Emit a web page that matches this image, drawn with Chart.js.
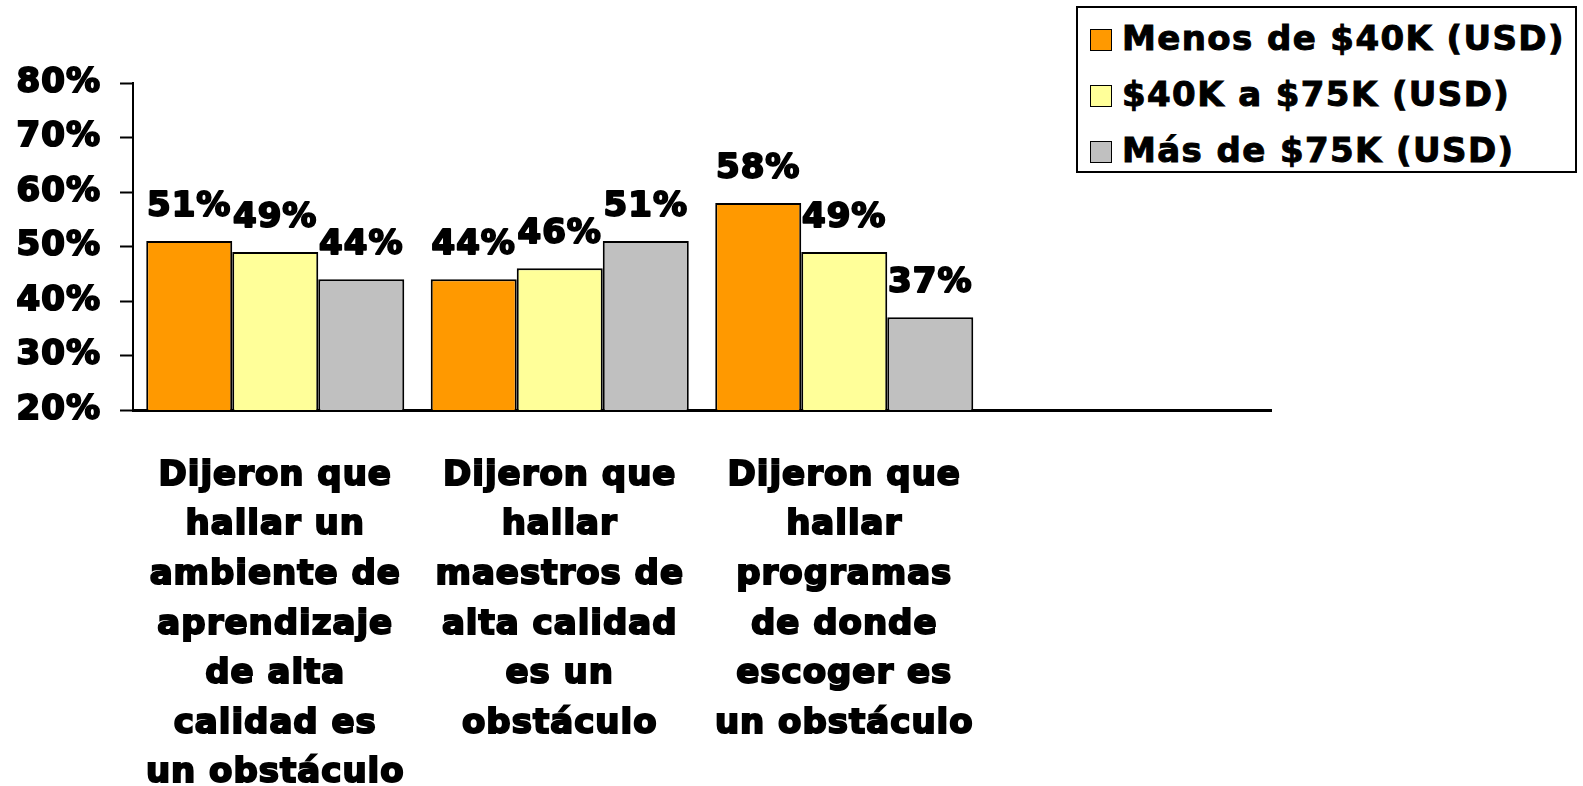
<!DOCTYPE html>
<html>
<head>
<meta charset="utf-8">
<script src="https://cdn.jsdelivr.net/npm/chart.js@4"></script>
<style>
  html, body { margin: 0; padding: 0; background: #fff; }
  .wrap { position: relative; width: 1583px; height: 786px; }
  .legend {
    position: absolute; left: 1076px; top: 6px; width: 501px; height: 167px;
    border: 2px solid #000; box-sizing: border-box; background: #fff;
    font-family: "DejaVu Sans", sans-serif; font-weight: bold; font-size: 34px;
    letter-spacing: 1.4px; -webkit-text-stroke: 1px #000;
    padding-top: 2px;
  }
  .legend div { height: 56px; line-height: 56px; white-space: nowrap; padding-left: 12px; }
  .legend span {
    display: inline-block; width: 20px; height: 20px; border: 1.5px solid #000;
    margin-right: 10px; vertical-align: -1px; -webkit-text-stroke: 0;
  }
</style>
</head>
<body>
<div class="wrap">
  <canvas id="jsIncomeCanvas" width="1583" height="786"></canvas>
  <div class="legend" id="jsLegend"></div>
</div>
<script>
const categories = [
  ["Dijeron que", "hallar un", "ambiente de", "aprendizaje", "de alta", "calidad es", "un obstáculo"],
  ["Dijeron que", "hallar", "maestros de", "alta calidad", "es un", "obstáculo"],
  ["Dijeron que", "hallar", "programas", "de donde", "escoger es", "un obstáculo"],
  "",
];
const seriesNames = ["Menos de $40K (USD)", "$40K a $75K (USD)", "Más de $75K (USD)"];
const menos40k = [51, 44, 58, null];
const de40a75k = [49, 46, 49, null];
const mas75k = [44, 51, 37, null];
const seriesColors = ["#FF9900", "#FFFF99", "#C0C0C0"];
const yTicks = [20, 30, 40, 50, 60, 70, 80];

const FONT = "DejaVu Sans";

// wider, heavier text (closer to the original's black face)
const letterSpacing = {
  id: "letterSpacing",
  beforeInit(chart) { chart.ctx.letterSpacing = "1px"; },
  beforeDraw(chart) { chart.ctx.letterSpacing = "1px"; },
};

// value labels above the bars
const barLabels = {
  id: "barLabels",
  afterDatasetsDraw(chart) {
    const ctx = chart.ctx;
    ctx.save();
    ctx.font = "bold 34px '" + FONT + "'";
    ctx.fillStyle = "#000";
    ctx.strokeStyle = "#000";
    ctx.lineWidth = 2;
    ctx.lineJoin = "round";
    ctx.textAlign = "center";
    ctx.textBaseline = "alphabetic";
    chart.data.datasets.forEach((ds, i) => {
      chart.getDatasetMeta(i).data.forEach((bar, j) => {
        const v = ds.data[j];
        if (v == null) return;
        ctx.strokeText(v + "%", bar.x, bar.y - 25);
        ctx.fillText(v + "%", bar.x, bar.y - 25);
      });
    });
    ctx.restore();
  },
};

const buildLegend = () => {
  const legend = document.getElementById("jsLegend");
  seriesNames.forEach((name, i) => {
    const row = document.createElement("div");
    const box = document.createElement("span");
    box.style.background = seriesColors[i];
    row.appendChild(box);
    row.appendChild(document.createTextNode(name));
    legend.appendChild(row);
  });
};

const incomeChart = () => {
  const ctx = document.getElementById("jsIncomeCanvas").getContext("2d");
  const seriesData = [menos40k, de40a75k, mas75k];

  new Chart(ctx, {
    type: "bar",
    data: {
      labels: categories,
      datasets: seriesData.map((d, i) => ({
        label: seriesNames[i],
        data: d,
        backgroundColor: seriesColors[i],
        borderColor: "#000",
        borderWidth: 2,
        categoryPercentage: 0.907,
        barPercentage: 1,
      })),
    },
    options: {
      responsive: false,
      animation: false,
      layout: {
        padding: { top: 83, right: 312, left: 0, bottom: 0 },
      },
      plugins: {
        legend: { display: false },
        tooltip: { enabled: false },
      },
      scales: {
        x: {
          grid: { display: false, drawTicks: false },
          border: { display: true, color: "#000", width: 3 },
          afterFit: (scale) => { scale.height = 376; },
          ticks: {
            color: "#000",
            padding: 41,
            maxRotation: 0,
            autoSkip: false,
            textStrokeColor: "#000",
            textStrokeWidth: 2,
            font: { family: FONT, weight: "bold", size: 34, lineHeight: 1.46 },
          },
        },
        y: {
          min: yTicks[0],
          max: yTicks[yTicks.length - 1],
          afterFit: (scale) => { scale.width = 133; },
          afterBuildTicks: (scale) => {
            scale.ticks = yTicks.map((v) => ({ value: v }));
          },
          grid: {
            display: true,
            drawOnChartArea: false,
            drawTicks: true,
            tickLength: 13,
            tickWidth: 2,
            tickColor: "#000",
          },
          border: { display: true, color: "#000", width: 2 },
          ticks: {
            color: "#000",
            padding: 19,
            textStrokeColor: "#000",
            textStrokeWidth: 2,
            callback: (value) => value + "%",
            font: { family: FONT, weight: "bold", size: 34 },
          },
        },
      },
    },
    plugins: [letterSpacing, barLabels],
  });
};

window.addEventListener("DOMContentLoaded", () => {
  buildLegend();
  incomeChart();
});
</script>
</body>
</html>
